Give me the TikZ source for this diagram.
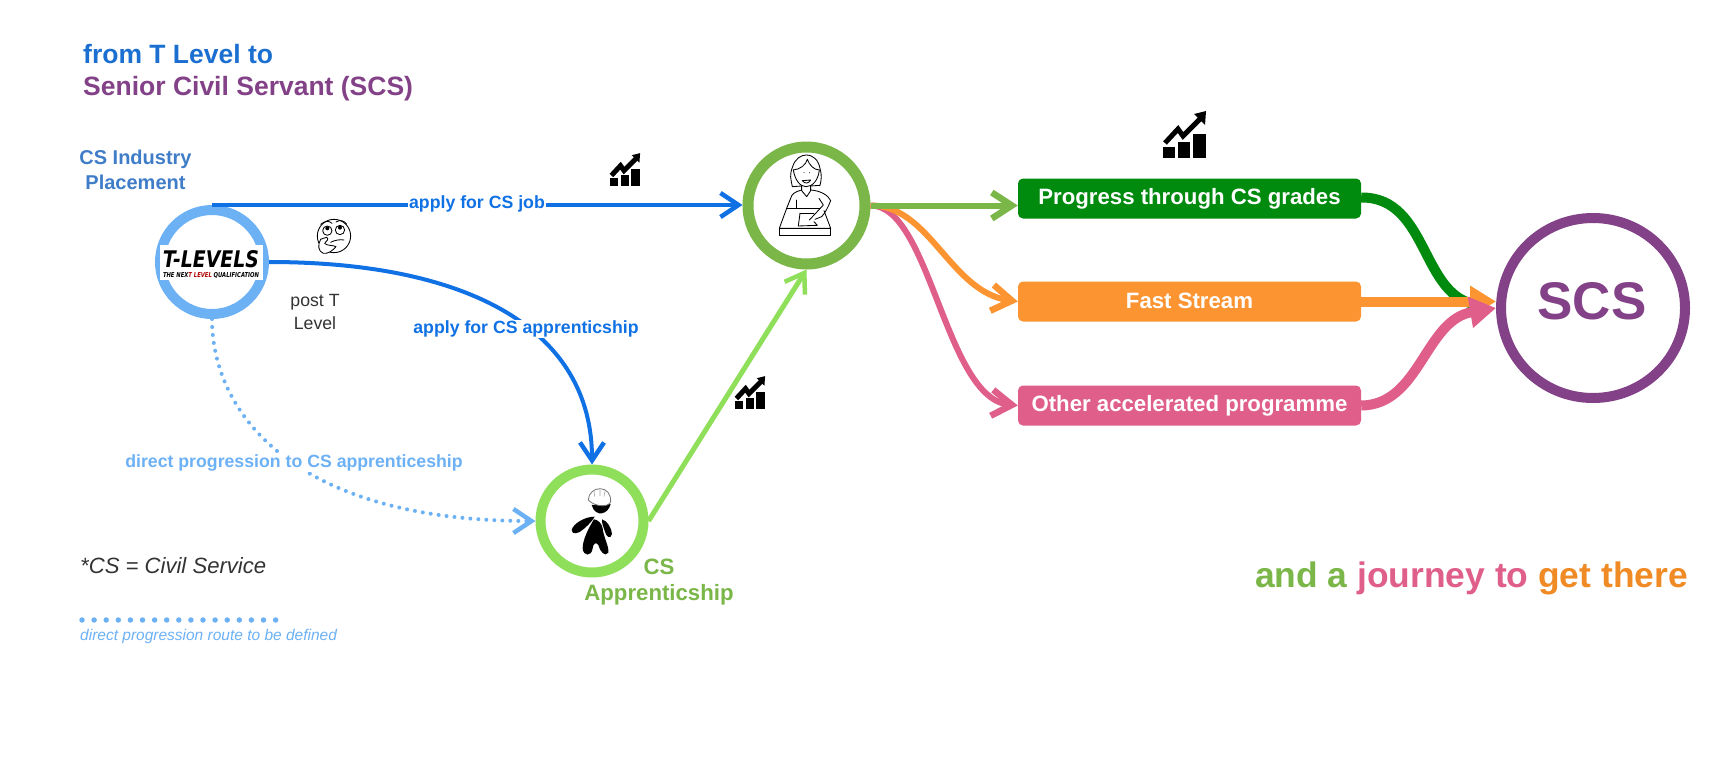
\documentclass[tikz,border=0pt]{standalone}
\usepackage{fontspec}
\usepackage{graphicx}
\setmainfont{Liberation Sans}
\newfontfamily\logofont{DejaVu Sans}
\usetikzlibrary{arrows.meta,calc,shapes.geometric}
\definecolor{cblue}{HTML}{1071E5}
\definecolor{ctitleblue}{HTML}{1B6FD0}
\definecolor{cindblue}{HTML}{3F7DC8}
\definecolor{clblue}{HTML}{6DB1F5}
\definecolor{cgreen}{HTML}{7AB648}
\definecolor{clgreen}{HTML}{8FDF5A}
\definecolor{cdgreen}{HTML}{008A0E}
\definecolor{corange}{HTML}{FC9432}
\definecolor{cdorange}{HTML}{F08A24}
\definecolor{cpink}{HTML}{DF5F8A}
\definecolor{cpurple}{HTML}{834187}
\definecolor{ctext}{HTML}{333333}
\newcommand{\fs}[1]{\fontsize{#1}{#1}\selectfont}
\tikzset{
  ring/.style={circle,draw=#1,line width=10pt,fill=white,inner sep=0pt},
  routebox/.style={rectangle,rounded corners=5pt,fill=#1,text=white,minimum width=343pt,minimum height=40pt,inner sep=0pt,font=\fs{22.2}\bfseries},
  lbl/.style={fill=white,inner sep=1pt,font=\fs{17.7}\bfseries,text=#1},
  barb/.style={-{Straight Barb[length=18pt,width=24pt,line width=4.5pt]},line width=4pt},
  thickbarb/.style={-{Straight Barb[length=20pt,width=26pt,line width=6.5pt]},line width=6pt},
  feed/.style={-{Triangle[length=26pt,width=30pt]},line width=10pt},
  icon/.style={line width=.85pt,draw=black,line join=round,line cap=round},
  pics/chartico/.style={code={
    \fill[black] (0,0) rectangle (12,-11);
    \fill[black] (15,0) rectangle (27,-16);
    \fill[black] (30,0) rectangle (43,-24);
    \draw[black,line width=5pt] (2,-15)--(15,-29)--(20,-22)--(37,-39);
    \fill[black] (43,-47)--(31,-44)--(42,-33)--cycle;
  }}
}
\begin{document}
\begin{tikzpicture}[x=1pt,y=-1pt]
\useasboundingbox (0,0) rectangle (1728,774);
\fill[white] (0,0) rectangle (1728,774);

% titles
\node[anchor=west,inner sep=0pt,font=\fs{26.5}\bfseries,text=ctitleblue] (t1) at (83,54) {from T Level to};
\node[anchor=west,inner sep=0pt,font=\fs{26.5}\bfseries,text=cpurple] (t2) at (83,89) {Senior Civil Servant (SCS)};
\node[align=center,inner sep=0pt,text=cindblue] (ind) at (135.5,170) {\fs{20}\bfseries CS Industry\\[5pt]\fs{20}\bfseries Placement};

% circles
\node[ring=clblue,minimum size=104pt] (tl) at (212,262) {};
\node[ring=cgreen,minimum size=117pt,line width=11pt] (job) at (806.5,205.5) {};
\node[ring=clgreen,minimum size=103pt] (app) at (592,521) {};
\node[ellipse,draw=cpurple,line width=10pt,fill=white,inner sep=0pt,minimum width=184pt,minimum height=180pt] (scs) at (1593,308) {};
\node[inner sep=0pt,font=\fs{53}\bfseries,text=cpurple] (scst) at (1592,301) {SCS};

% boxes
\node[routebox=cdgreen] (b1) at (1189.5,198.5) {\raisebox{1pt}{Progress through CS grades}};
\node[routebox=corange] (b2) at (1189.5,301.5) {\raisebox{1pt}{Fast Stream}};
\node[routebox=cpink] (b3) at (1189.5,405.5) {Other accelerated programme};

% connectors
\draw[barb,cblue] (tl.north) -- (tl.north -| job.west);
\draw[barb,cblue] (tl.east) .. controls (470,262) and (592,330) .. (app.north);
\draw[barb,clblue,line cap=round,dash pattern=on 0pt off 8pt] (tl.south) .. controls (212,410) and (290,521) .. (app.west);
\draw[barb,clgreen,line width=5pt] (app.east) -- (job.south);
\draw[thickbarb,cpink] (job.east) .. controls (930,205) and (945,398) .. (b3.west);
\draw[thickbarb,corange] (job.east) .. controls (930,205) and (950,292) .. (b2.west);
\draw[thickbarb,cgreen] (job.east) -- (job.east -| b1.west);
\draw[line width=10pt,cdgreen] ($(b1.east)+(0,-1)$) .. controls (1430,197) and (1420,300) .. (1480,305);
\draw[feed,corange] (b2.east) -- (b2.east -| scs.west);
\draw[feed,cpink] (b3.east) .. controls (1420,405) and (1425,320) .. (scs.west);

% connector labels
\node[lbl=cblue] (l1) at (477,204) {apply for CS job};
\node[lbl=cblue] (l2) at (526,329) {apply for CS apprenticship};
\node[lbl=clblue] (l3) at (294,463) {direct progression to CS apprenticeship};

% other text
\node[align=center,inner sep=0pt,font=\fs{17.7},text=ctext] (post) at (315,312) {post T\\[4.5pt]Level};
\node[align=center,inner sep=0pt,text=cgreen] (capp) at (659,582) {\fs{22.2}\bfseries CS\\[8pt]\fs{22.2}\bfseries Apprenticship};
\node[anchor=west,inner sep=0pt,font=\fs{22.1}\itshape,text=ctext] (cs) at (80,566) {*CS = Civil Service};
\coordinate (lega) at (82,620);
\coordinate (legb) at (279,620);
\draw[clblue,line width=5.5pt,line cap=round,dash pattern=on 0pt off 12.1pt] (lega) -- (legb);
\node[anchor=west,inner sep=0pt,font=\fs{15.5}\itshape,text=clblue] (leg) at (80,636) {direct progression route to be defined};
\node[anchor=east,inner sep=0pt,font=\fs{35.4}\bfseries] (jr) at (1688,578) {\textcolor{cgreen}{and a} \textcolor{cpink}{journey to} \textcolor{cdorange}{get there}};

% T-levels logo
\node[fill=white,minimum width=103pt,minimum height=35pt,inner sep=0pt] (logo) at (211.5,262.5) {};
\node[inner sep=0pt] (logot) at (211,259) {\resizebox{96pt}{17pt}{\logofont\bfseries\itshape T-LEVELS}};
\node[inner sep=0pt] (logos) at (211,275) {\resizebox{96pt}{5pt}{\logofont\bfseries\itshape THE NEX\textcolor{red!70!black}{T LEVEL} QUALIFICATION}};

% charts
\pic[scale=1] at (1163,158) {chartico};
\pic[scale=.7] at (610,186) {chartico};
\pic[scale=.7] at (735,409) {chartico};

% thinking face (coordinates of a 3x crop)
\begin{scope}[shift={(130,130)},x=.3333pt,y=-.3333pt]
  \draw[icon,fill=white] (612,318) circle (50);
  \draw[icon] (592,302) circle (14);
  \draw[icon] (630,300) circle (14);
  \fill (592,295) circle (6);
  \fill (630,293) circle (6);
  \draw[icon] (572,283) .. controls (585,272) and (598,272) .. (606,280);
  \draw[icon] (618,276) .. controls (630,268) and (642,272) .. (650,282);
  \draw[icon] (602,337) .. controls (615,330) and (630,328) .. (642,330);
  \draw[icon,fill=white] (572,328) .. controls (562,345) and (565,365) .. (580,370)
     .. controls (595,372) and (608,362) .. (618,350) .. controls (610,345) and (590,348) .. (584,340)
     .. controls (590,335) and (598,325) .. (590,322) .. controls (582,322) and (578,328) .. (572,328) -- cycle;
\end{scope}

% woman at desk (coordinates of a 3x crop)
\begin{scope}[shift={(720,120)},x=.3333pt,y=-.3333pt]
  \draw[icon] (217,200) .. controls (212,175) and (208,165) .. (218,140) .. controls (225,115) and (245,105) .. (258,105)
     .. controls (280,105) and (295,120) .. (300,145) .. controls (306,165) and (304,180) .. (300,196) -- (272,198);
  \draw[icon] (217,200) -- (245,198);
  \draw[icon] (220,150) .. controls (225,180) and (240,200) .. (258,200) .. controls (278,200) and (295,180) .. (298,150);
  \draw[icon] (220,150) .. controls (240,148) and (258,135) .. (262,118) .. controls (268,135) and (282,150) .. (298,150);
  \draw[icon] (247,182) .. controls (255,192) and (265,192) .. (272,180) -- cycle;
  \fill (252,158) circle (1.5); \fill (268,158) circle (1.5);
  \draw[icon] (245,198) -- (245,212) -- (260,230) -- (272,212) -- (272,198);
  \draw[icon] (245,210) .. controls (225,215) and (215,222) .. (212,235) -- (200,265);
  \draw[icon] (228,240) -- (228,265);
  \draw[icon] (272,210) .. controls (300,212) and (325,225) .. (332,242) .. controls (325,260) and (315,280) .. (305,290) -- (285,298);
  \draw[icon] (297,235) -- (310,255) -- (285,282) -- (268,300);
  \draw[icon] (200,265) -- (300,265);
  \draw[icon] (200,265) -- (178,325) -- (332,325) -- (312,272);
  \draw[icon] (178,325) -- (178,347) -- (332,347) -- (332,325);
  \draw[icon] (240,280) -- (235,318) -- (292,316) -- (282,305);
  \draw[icon] (240,280) -- (282,280);
\end{scope}

% worker (coordinates of a 3x crop)
\begin{scope}[shift={(520,360)},x=.3333pt,y=-.3333pt]
  \fill[black] (215,435) .. controls (220,455) and (235,462) .. (245,460) .. controls (258,458) and (268,448) .. (272,432) -- cycle;
  \draw[draw=black!55,fill=white,line width=.8pt] (205,420) .. controls (205,400) and (222,386) .. (240,386)
     .. controls (260,386) and (273,402) .. (272,425) .. controls (268,442) and (225,442) .. (205,420) -- cycle;
  \draw[black!35,line width=.6pt] (222,392) -- (224,410) (240,388) -- (240,408) (255,393) -- (252,410);
  \fill[black] (224,470) .. controls (195,470) and (160,490) .. (155,510) .. controls (155,525) and (175,522) .. (190,508) .. controls (205,495) and (218,482) .. (224,470) -- cycle;
  \fill[black] (222,478) .. controls (205,505) and (188,540) .. (188,565) .. controls (190,590) and (215,590) .. (218,565) .. controls (220,550) and (228,545) .. (235,555) .. controls (240,575) and (255,592) .. (265,578) .. controls (268,560) and (250,530) .. (248,505) .. controls (245,490) and (235,480) .. (222,478) -- cycle;
  \fill[black] (246,478) .. controls (262,482) and (275,505) .. (276,522) .. controls (272,540) and (258,530) .. (255,515) .. controls (250,500) and (245,490) .. (246,478) -- cycle;
\end{scope}
\end{tikzpicture}
\end{document}
